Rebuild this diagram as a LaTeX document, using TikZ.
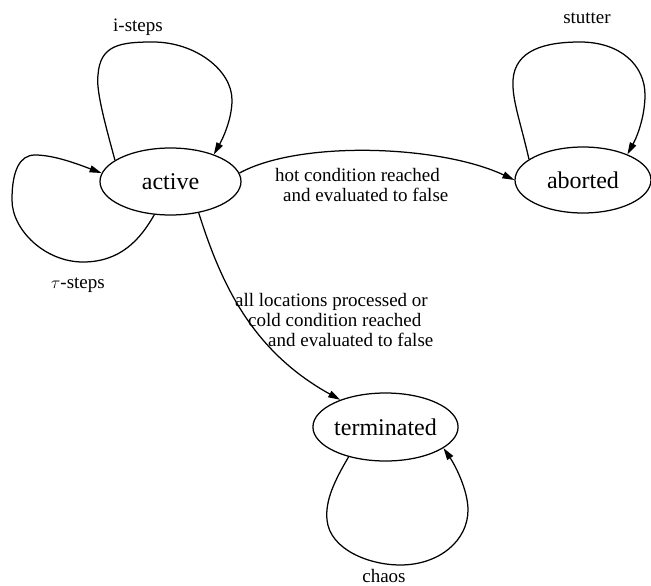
\documentclass[tikz,border=0pt]{standalone}
\usepackage{fontspec}
\setmainfont{Liberation Serif}
\usetikzlibrary{shapes.geometric,arrows.meta}
\begin{document}
\begin{tikzpicture}[x=1pt,y=-1pt,
  state/.style={draw,ellipse,line width=1.25pt,inner sep=0pt,minimum width=141pt,minimum height=67pt,font=\fontsize{24}{26}\selectfont},
  lbl/.style={inner sep=0pt,font=\fontsize{19}{20}\selectfont},
  edge/.style={line width=1.25pt,-{Triangle[length=12pt,width=7pt]}}]
\useasboundingbox (0,0) rectangle (651,586);
\node[state] (active) at (170.5,181.5) {active};
\node[state,minimum width=136pt,minimum height=66pt] (aborted) at (583,180) {aborted};
\node[state,minimum height=68pt] (terminated) at (385.5,427) {terminated};

\node[lbl] (li) at (138,27) {i-steps};
\node[lbl] (lt) at (78,285) {$\tau$-steps};
\node[lbl] (ls) at (587,18) {stutter};
\node[lbl] (lc) at (384,575.5) {chaos};
\node[lbl,align=left,anchor=west] (lh) at (275,185) {hot condition reached\\\hspace*{8pt}and evaluated to false};
\node[lbl,align=left,anchor=west] (lterm) at (235,320) {all locations processed or\\\hspace*{13pt}cold condition reached\\\hspace*{33pt}and evaluated to false};

% i-steps
\draw[edge] (active.159) .. controls (104,120) and (96,90) .. (98,75)
  .. controls (100,45) and (120,42) .. (153,42)
  .. controls (195,42) and (232,70) .. (232,100)
  .. controls (232,120) and (222,140) .. (active.32);
% tau-steps
\draw[edge] (active.244) .. controls (140,240) and (120,262) .. (83,262)
  .. controls (45,262) and (12,230) .. (12,200)
  .. controls (12,170) and (20,155) .. (35,155)
  .. controls (55,155) and (80,165) .. (active.173);
% stutter
\draw[edge] (aborted.159) .. controls (520,120) and (512,100) .. (513,80)
  .. controls (515,50) and (545,42) .. (580,42)
  .. controls (620,42) and (645,65) .. (645,95)
  .. controls (645,115) and (638,135) .. (aborted.30);
% chaos
\draw[edge] (terminated.219) .. controls (335,480) and (325,500) .. (327,520)
  .. controls (330,550) and (370,565) .. (400,565)
  .. controls (440,565) and (468,540) .. (468,510)
  .. controls (468,490) and (455,465) .. (terminated.340);
% hot
\draw[edge] (active.7) .. controls (300,140) and (440,145) .. (aborted.180);
% terminated
\draw[edge] (active.-48) .. controls (220,280) and (250,350) .. (terminated.149);
\end{tikzpicture}
\end{document}
